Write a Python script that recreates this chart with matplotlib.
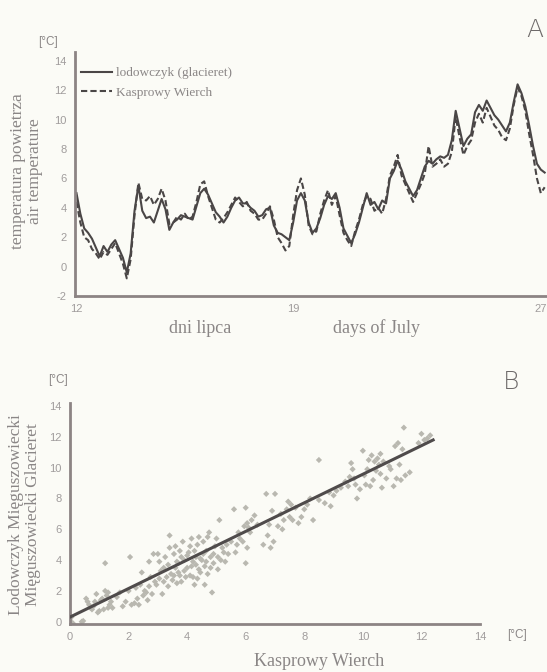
import numpy as np
import matplotlib
matplotlib.use('Agg')
import matplotlib.pyplot as plt

# --- panel A: 3-hourly air temperature, 12-27 July ---
glacieret = [
    5.0, 3.6, 2.6, 2.3, 1.9, 1.3, 0.7, 1.4,
    1.0, 1.5, 1.8, 1.2, 0.6, -0.4, 0.9, 3.8,
    5.5, 3.8, 3.3, 3.4, 3.0, 3.8, 4.6, 3.9,
    2.5, 3.0, 3.2, 3.5, 3.4, 3.3, 3.2, 4.1,
    5.0, 5.3, 4.9, 4.3, 3.7, 3.4, 3.0, 3.4,
    4.0, 4.5, 4.7, 4.3, 4.3, 4.0, 3.8, 3.4,
    3.5, 3.9, 4.0, 2.8, 2.3, 2.2, 2.0, 1.8,
    3.0, 4.5, 5.0, 4.5, 3.0, 2.3, 2.6, 3.3,
    4.2, 4.8, 4.6, 5.0, 4.0, 2.6, 2.1, 1.6,
    2.2, 3.0, 4.0, 5.0, 4.2, 4.4, 3.9, 4.5,
    4.3, 6.0, 6.5, 7.2, 6.6, 5.8, 5.3, 4.8,
    5.2, 6.0, 6.8, 7.2, 7.0, 7.3, 7.5, 7.4,
    7.6, 8.6, 10.6, 9.4, 8.2, 8.7, 9.0, 10.5,
    11.0, 10.6, 11.3, 10.8, 10.3, 10.0, 9.6, 9.2,
    9.8, 11.2, 12.4, 11.8, 10.9, 9.6, 8.2, 7.0,
    6.6, 6.4,
]
kasprowy = [
    4.4, 3.0, 2.0, 1.8, 1.2, 0.9, 0.5, 1.0,
    0.8, 1.2, 1.6, 0.9, 0.2, -0.8, 0.5, 3.5,
    5.7, 4.6, 4.5, 4.8, 4.2, 4.6, 5.3, 4.5,
    2.9, 3.0, 3.4, 3.2, 3.6, 3.2, 3.4, 4.4,
    5.6, 5.8, 4.8, 4.0, 3.2, 3.0, 3.3, 3.7,
    4.2, 4.7, 4.4, 4.1, 4.4, 3.8, 3.6, 3.2,
    3.2, 3.6, 4.1, 3.2, 2.0, 1.6, 1.1, 1.4,
    3.5, 5.2, 6.0, 4.9, 2.8, 2.2, 2.4, 3.6,
    4.5, 5.2, 4.2, 4.8, 3.5, 2.3, 1.8, 1.4,
    2.4, 3.2, 4.2, 4.8, 4.6, 3.8, 4.0, 3.6,
    4.6, 6.2, 6.8, 7.6, 6.2, 5.6, 5.0, 4.4,
    5.0, 5.6, 6.3, 8.2, 6.8, 7.0, 7.3, 6.8,
    7.0, 7.8, 10.2, 8.8, 7.6, 8.2, 8.6, 9.8,
    10.4, 9.8, 10.8, 10.2, 9.6, 9.3, 8.8, 8.6,
    9.4, 11.0, 12.2, 11.6, 10.6, 9.0, 7.6, 6.0,
    5.0, 5.4,
]
day_ticks = [12, 19, 27]

# --- panel B: Kasprowy Wierch (x) vs glacieret (y) ---
scatter_x = [
    0.0, 0.05, 0.1, 0.4, 0.45,
    0.55, 0.6, 0.65, 0.7, 0.8, 0.9, 0.95, 1.0, 0.85, 0.75,
    1.1, 1.2, 1.2, 1.25, 1.3, 1.35, 1.4, 1.05, 1.15, 1.45, 1.3,
    1.6, 1.8, 1.9, 1.7,
    2.05, 2.0, 2.1, 2.2, 2.3, 2.35, 2.45, 2.5, 2.4, 2.25,
    2.55, 2.6, 2.7, 2.75, 2.8, 2.85, 2.9, 2.95, 2.65, 2.7,
    3.0, 3.05, 3.1, 3.15, 3.2, 3.25, 3.3, 3.35, 3.4, 3.4, 3.45, 3.5, 3.35, 3.2, 3.05,
    3.55, 3.6, 3.65, 3.7, 3.75, 3.8, 3.85, 3.9, 3.95, 3.6, 3.7, 3.8, 3.9, 3.55, 3.75, 3.65,
    4.0, 4.05, 4.1, 4.15, 4.2, 4.25, 4.3, 4.35, 4.4, 4.45, 4.1, 4.2, 4.3, 4.4, 4.0, 4.15, 4.35, 4.45, 4.25,
    4.5, 4.55, 4.6, 4.65, 4.7, 4.75, 4.8, 4.85, 4.9, 4.95, 4.6, 4.7, 4.8, 4.55, 4.9, 4.65,
    5.0, 5.05, 5.1, 5.15, 5.2, 5.3, 5.35, 5.4, 5.5, 5.05, 5.25,
    5.6, 5.65, 5.7, 5.8, 5.9, 5.95, 5.75,
    6.0, 6.0, 6.05, 6.1, 6.2, 6.3, 6.4, 6.05, 6.15,
    6.6, 6.7, 6.75, 6.8, 6.85, 6.9, 7.0, 6.95,
    7.1, 7.2, 7.3, 7.4, 7.5, 7.55, 7.6, 7.7, 7.8, 7.9, 7.25, 7.45,
    8.0, 8.1, 8.3, 8.5, 8.5, 8.7, 8.85, 8.9, 8.2,
    9.0, 9.1, 9.25, 9.4, 9.5, 9.6, 9.65, 9.7, 9.8, 9.9, 9.55, 9.75,
    10.0, 10.05, 10.1, 10.2, 10.25, 10.3, 10.4, 10.45, 10.35, 10.15,
    10.5, 10.55, 10.6, 10.65, 10.7, 10.8, 10.9, 10.95, 10.6,
    11.1, 11.15, 11.2, 11.25, 11.35, 11.4, 11.45, 11.6, 11.3, 11.05,
    12.0, 12.1, 12.2, 12.3, 11.9,
]
scatter_y = [
    0.1, 0.3, -0.1, 0.0, 0.05,
    1.5, 1.3, 1.1, 0.9, 1.0, 1.8, 0.6, 0.7, 1.3, 0.8,
    1.5, 3.8, 2.0, 1.7, 0.9, 1.1, 1.3, 1.4, 0.8, 0.9, 1.9,
    1.6, 1.0, 1.3, 1.9,
    4.2, 2.0, 1.1, 1.2, 1.5, 1.1, 3.2, 1.7, 2.4, 2.2,
    2.0, 1.9, 2.3, 2.9, 1.8, 4.4, 2.6, 2.4, 1.4, 3.9,
    4.4, 2.8, 3.3, 1.8, 3.5, 4.2, 2.9, 3.7, 4.8, 5.6, 3.1, 2.7, 2.3, 2.6, 3.9,
    4.4, 3.5, 2.5, 3.8, 3.0, 4.2, 5.2, 3.3, 2.9, 4.9, 3.2, 2.6, 4.0, 3.0, 4.6, 3.9,
    3.5, 4.5, 3.0, 5.4, 3.9, 2.4, 4.2, 5.0, 3.4, 4.1, 4.9, 2.9, 3.7, 5.5, 4.3, 3.6, 2.8, 3.2, 4.6,
    4.0, 5.2, 3.6, 4.6, 3.1, 5.8, 4.2, 1.9, 3.8, 4.9, 2.4, 5.5, 3.5, 4.4, 4.4, 3.9,
    5.4, 4.2, 6.6, 4.0, 4.8, 3.9, 5.0, 4.4, 5.2, 3.4, 4.5,
    7.3, 4.5, 5.0, 5.4, 5.2, 6.2, 5.8,
    7.4, 3.8, 6.4, 6.1, 6.6, 6.9, 6.3, 4.8, 5.8,
    5.0, 8.3, 5.6, 6.3, 4.8, 7.2, 8.3, 5.2,
    6.2, 7.0, 6.6, 7.3, 6.8, 7.6, 6.6, 7.4, 6.4, 6.8, 6.0, 7.8,
    7.3, 7.6, 6.6, 10.5, 7.9, 7.7, 8.4, 7.5, 8.0,
    8.2, 8.5, 8.7, 9.1, 8.8, 10.3, 9.9, 9.3, 8.0, 8.6, 9.4, 8.9,
    11.1, 9.5, 8.9, 10.5, 8.8, 10.8, 10.4, 9.8, 9.2, 9.9,
    10.6, 10.2, 9.6, 8.7, 10.4, 9.3, 10.1, 9.9, 10.9,
    11.4, 9.3, 11.6, 10.2, 11.2, 12.6, 9.5, 9.7, 9.2, 8.8,
    12.2, 11.8, 11.9, 12.1, 11.6,
]
fit_x = [0.0, 12.4]
fit_y = [0.3, 11.8]

BG = '#fbfbf6'
AXIS = '#8c8484'
TICK = '#a09c9c'
TEXT = '#8a8686'
LINE = '#4a4646'
SERIF = 'Liberation Serif'
SANS = 'Liberation Sans'

plt.rcParams['axes.unicode_minus'] = False

days = 12 + np.arange(len(glacieret)) * 3 / 24.0

fig = plt.figure(figsize=(5.47, 6.72), dpi=100, facecolor=BG)

# ---------------- panel A ----------------
ax1 = fig.add_axes([0.137, 0.5595, 0.863, 0.3631])
ax1.set_facecolor(BG)
ax1.plot(days, glacieret, color=LINE, lw=1.5, label='lodowczyk (glacieret)')
ax1.plot(days, kasprowy, color=LINE, lw=1.5, ls=(0, (3, 1.5)), label='Kasprowy Wierch')
ax1.set_xlim(11.95, 27.2)
ax1.set_ylim(-2, 14.6)
ax1.set_xticks(day_ticks)
ax1.set_yticks(range(-2, 15, 2))
ax1.legend(loc='upper left', bbox_to_anchor=(-0.002, 0.965), frameon=False,
           prop={'family': SERIF, 'size': 9.5}, labelcolor=TEXT,
           handlelength=2.4, handletextpad=0.3, labelspacing=0.55, borderaxespad=0.1)
fig.text(0.049, 0.745, 'temperatura powietrza\nair temperature', rotation=90,
         ha='center', va='center', family=SERIF, fontsize=12.5, color=TEXT,
         linespacing=1.1)
fig.text(0.087, 0.937, '[°C]', family=SANS, fontsize=8.5, color=TEXT,
         ha='center', va='center')
fig.text(0.977, 0.955, 'A', family='DejaVu Sans', fontweight='light', fontsize=18,
         color='#6e6a6a', ha='center', va='center')
fig.text(0.366, 0.504, 'dni lipca', family=SERIF, fontsize=13, color=TEXT, ha='center')
fig.text(0.688, 0.504, 'days of July', family=SERIF, fontsize=13, color=TEXT, ha='center')

# ---------------- panel B ----------------
ax2 = fig.add_axes([0.128, 0.0714, 0.7495, 0.3289])
ax2.set_facecolor(BG)
ax2.scatter(scatter_x, scatter_y, s=10, marker='D', color='#b9b8b0', edgecolors='none', zorder=2)
ax2.plot(fit_x, fit_y, color='#4f4b4b', lw=2.2, zorder=3)
ax2.set_xlim(0, 14)
ax2.set_ylim(-0.15, 14.2)
ax2.set_xticks(range(0, 15, 2))
ax2.set_yticks(range(0, 15, 2))
fig.text(0.045, 0.234, 'Lodowczyk Mięguszowiecki\nMięguszowiecki Glacieret', rotation=90,
         ha='center', va='center', family=SERIF, fontsize=12.5, color=TEXT,
         linespacing=1.1)
fig.text(0.583, 0.016, 'Kasprowy Wierch', family=SERIF, fontsize=13, color=TEXT,
         ha='center', va='center')
fig.text(0.106, 0.434, '[°C]', family=SANS, fontsize=8.5, color=TEXT,
         ha='center', va='center')
fig.text(0.946, 0.055, '[°C]', family=SANS, fontsize=8.5, color=TEXT,
         ha='center', va='center')
fig.text(0.935, 0.431, 'B', family='DejaVu Sans', fontweight='light', fontsize=18,
         color='#6e6a6a', ha='center', va='center')

for ax in (ax1, ax2):
    for side in ('top', 'right'):
        ax.spines[side].set_visible(False)
    for side in ('left', 'bottom'):
        ax.spines[side].set_color(AXIS)
        ax.spines[side].set_linewidth(2.0)
    ax.tick_params(length=0, labelsize=8, labelcolor=TICK, pad=6)
    for lab in ax.get_xticklabels() + ax.get_yticklabels():
        lab.set_family(SANS)

fig.savefig('out.png', dpi=100, facecolor=BG)
